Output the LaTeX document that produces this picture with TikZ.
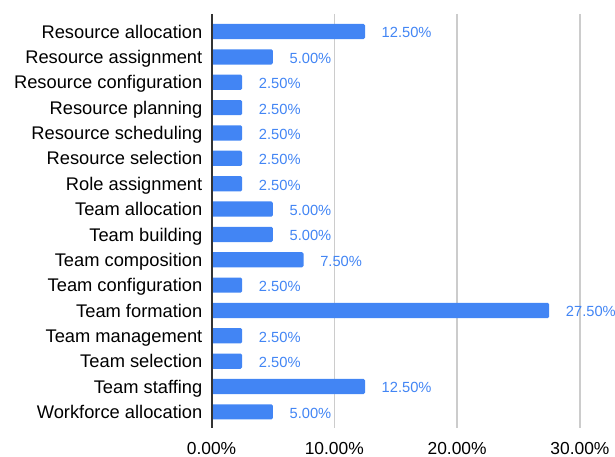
\documentclass[tikz,border=0pt]{standalone}
\usepackage{fontspec}
\setmainfont{Liberation Sans}
\definecolor{barblue}{HTML}{4285F4}
\definecolor{gridgrey}{HTML}{CCCCCC}
\definecolor{axisdark}{HTML}{333333}
\begin{document}
\begin{tikzpicture}[x=1pt,y=-1pt,
  bar/.style={fill=barblue,draw=none,rounded corners=1.5pt},
  catlabel/.style={anchor=base east,inner sep=0pt,font=\fontsize{18.3}{19}\selectfont,text=black},
  vallabel/.style={anchor=base west,inner sep=0pt,font=\fontsize{14.7}{16}\selectfont,text=barblue},
  ticklabel/.style={anchor=base,inner sep=0pt,font=\fontsize{17.4}{18}\selectfont,text=black},
  gridline/.style={draw=gridgrey,line width=1.3pt},
  axisline/.style={draw=axisdark,line width=2pt}]
\useasboundingbox (0,0) rectangle (615,457);
% scale: 0% at 211.5, 12.28 units per percent
\def\xz{211.5}
\def\sc{12.28}
% vertical grid
\foreach \g/\t in {1/10.00\%,2/20.00\%,3/30.00\%}{
  \coordinate (gt\g) at ({\xz+\g*10*\sc},14);
  \coordinate (gb\g) at ({\xz+\g*10*\sc},428);
  \draw[gridline] (gt\g) -- (gb\g);
  \node[ticklabel] (tick\g) at ({\xz+\g*10*\sc},454.3) {\t};
}
\node[ticklabel] (tick0) at (\xz,454.3) {0.00\%};
% bars
\foreach \i/\name/\v/\lab in {
  0/Resource allocation/12.5/12.50\%,
  1/Resource assignment/5/5.00\%,
  2/Resource configuration/2.5/2.50\%,
  3/Resource planning/2.5/2.50\%,
  4/Resource scheduling/2.5/2.50\%,
  5/Resource selection/2.5/2.50\%,
  6/Role assignment/2.5/2.50\%,
  7/Team allocation/5/5.00\%,
  8/Team building/5/5.00\%,
  9/Team composition/7.5/7.50\%,
  10/Team configuration/2.5/2.50\%,
  11/Team formation/27.5/27.50\%,
  12/Team management/2.5/2.50\%,
  13/Team selection/2.5/2.50\%,
  14/Team staffing/12.5/12.50\%,
  15/Workforce allocation/5/5.00\%}{
  \pgfmathsetmacro{\yc}{31.6+\i*25.35}
  \pgfmathsetmacro{\xe}{\xz+\v*\sc}
  \path[bar] (\xz,\yc-7.6) rectangle (\xe,\yc+7.6);
  \node[catlabel] (cat\i) at (202.5,\yc+6.6) {\name};
  \node[vallabel] (val\i) at (\xe+16.5,\yc+6.4) {\lab};
}
% category axis
\coordinate (axtop) at (\xz,14);
\coordinate (axbot) at (\xz,428);
\draw[axisline] (axtop) -- (axbot);
\end{tikzpicture}
\end{document}
